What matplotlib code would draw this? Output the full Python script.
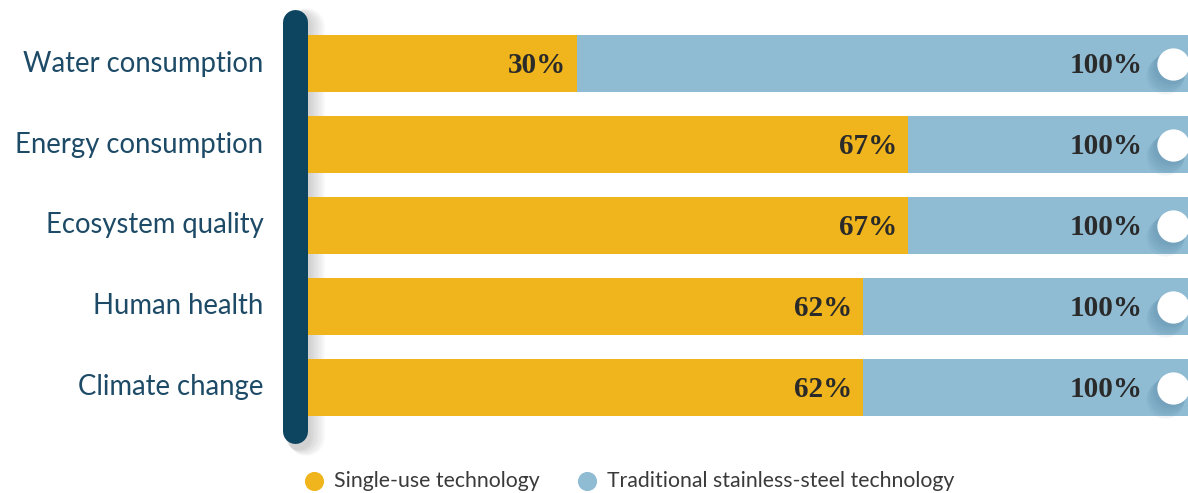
import matplotlib
matplotlib.use("Agg")
import matplotlib.pyplot as plt
import numpy as np

categories = ["Water consumption", "Energy consumption", "Ecosystem quality",
              "Human health", "Climate change"]
single_use = [30, 67, 67, 62, 62]
stainless = [100, 100, 100, 100, 100]
series_names = ["Single-use technology", "Traditional stainless-steel technology"]

ORANGE = "#f0b51c"
BLUE = "#8fbbd3"
NAVY = "#0d4460"
LABEL = "#1d4a66"
VALUE = "#2a2a2a"

W, H = 1188, 493
fig = plt.figure(figsize=(W / 100, H / 100), dpi=100)
ax = fig.add_axes([0, 0, 1, 1])

# one data unit along x = 8.95 px, bars start at px 308
px_per = 8.95
x0 = 308
ax.set_xlim(-x0 / px_per, (W - x0) / px_per)
# rows 81 px apart, first centred at px 63.5
row = 81.0
ax.set_ylim((H - 63.5) / row, -63.5 / row)
ax.axis("off")

y = np.arange(len(categories))
bh = 57 / row

ax.barh(y, stainless, height=bh, color=BLUE, zorder=2)
ax.barh(y, single_use, height=bh, color=ORANGE, zorder=3)

# knob at the right end of each full bar, with a soft shadow
knob_x = [v - 3.4 for v in stainless]
for k in range(6):
    ax.scatter([kx - 0.25 - 0.12 * k for kx in knob_x], y + 0.04 + 0.02 * k,
               s=560 + 40 * k, color="#4d7f9c", alpha=0.07, lw=0, zorder=4)
ax.scatter(knob_x, y, s=540, color="white", lw=0, zorder=5)

# value labels
for yi, v in zip(y, single_use):
    ax.text(v - 1.2, yi + 0.02, f"{v}%", ha="right", va="center", fontsize=21,
            fontweight="bold", family="Liberation Serif", color=VALUE, zorder=6)
for yi, v in zip(y, stainless):
    ax.text(v - 6.7, yi + 0.02, f"{v}%", ha="right", va="center", fontsize=21,
            fontweight="bold", family="Liberation Serif", color=VALUE, zorder=6)

# category labels
for yi, c in zip(y, categories):
    ax.text(-5.0, yi, c, ha="right", va="center", fontsize=19.8,
            family="Lato", color=LABEL)

# vertical pillar with shadow
pill_x = -1.43
top, bot = (22 - 63.5) / row, (431 - 63.5) / row
for k in range(8):
    ax.plot([pill_x + 0.35 + 0.12 * k] * 2, [top + 0.05, bot + 0.08],
            lw=18 + 1.2 * k, color="#555555", alpha=0.035,
            solid_capstyle="round", zorder=1)
ax.plot([pill_x, pill_x], [top, bot], lw=18, color=NAVY,
        solid_capstyle="round", zorder=7)

# legend
leg_y = (481 - 63.5) / row
leg_items = [(314, ORANGE, series_names[0]), (587, BLUE, series_names[1])]
for px, col, name in leg_items:
    xd = (px - x0) / px_per
    ax.scatter([xd], [leg_y], s=190, color=col, lw=0, clip_on=False)
    ax.text(xd + 2.2, leg_y, name, ha="left", va="center", fontsize=15.3,
            family="Lato", color="#3a3a3a")

fig.savefig("out.png", dpi=100)
